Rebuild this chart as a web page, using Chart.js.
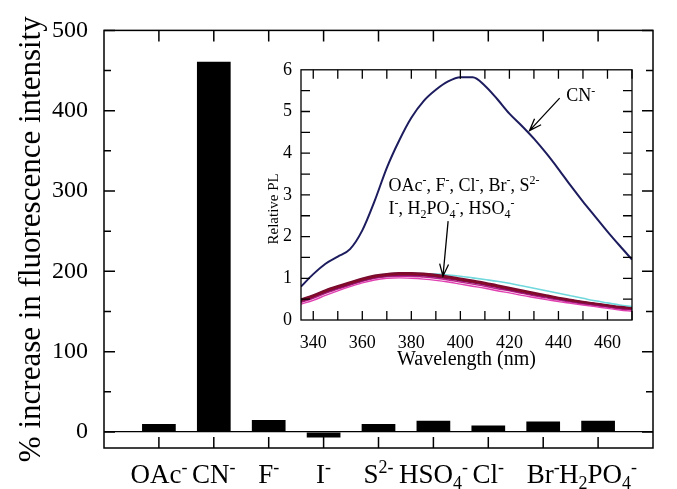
<!DOCTYPE html>
<html>
<head>
<meta charset="utf-8">
<script src="https://cdn.jsdelivr.net/npm/chart.js@4"></script>
<style>
  html, body { margin: 0; padding: 0; background: #fff; }
  #wrap { position: relative; width: 677px; height: 489px; }
  #main { position: absolute; left: 0; top: 0; width: 677px; height: 489px; }
  #inset { position: absolute; left: 250px; top: 50px; width: 400px; height: 330px; }
</style>
</head>
<body>
<div id="wrap">
  <div id="main"><canvas id="barChart"></canvas></div>
  <div id="inset"><canvas id="plChart"></canvas></div>
</div>
<script>
// bar chart data (% increase in fluorescence intensity)
const anions = ["OAc^-", "CN^-", "F^-", "I^-", "S^{2-}", "HSO_4^-", "Cl^-", "Br^-", "H_2PO_4^-"];
const increase = [10, 461, 15, -7, 10, 14, 8, 13, 14];
const yTickValues = [0, 100, 200, 300, 400, 500];

// inset: relative PL spectra
const wavelengths = [335, 340, 345, 350, 355, 360, 365, 370, 375, 380, 385, 390, 395, 400,
  405, 410, 415, 420, 425, 430, 435, 440, 445, 450, 455, 460, 465, 470];
const plCN = [0.80, 1.10, 1.35, 1.52, 1.70, 2.15, 2.85, 3.65, 4.30, 4.85, 5.25, 5.52, 5.72, 5.82,
  5.82, 5.62, 5.30, 4.95, 4.66, 4.35, 4.00, 3.62, 3.22, 2.84, 2.48, 2.12, 1.78, 1.45];
const plOAc = [0.50, 0.60, 0.72, 0.82, 0.91, 1.00, 1.07, 1.11, 1.13, 1.13, 1.12, 1.09, 1.05, 1.00,
  0.95, 0.90, 0.84, 0.78, 0.72, 0.66, 0.60, 0.54, 0.49, 0.44, 0.40, 0.36, 0.32, 0.29];
const plF = [0.48, 0.58, 0.70, 0.80, 0.89, 0.98, 1.05, 1.09, 1.11, 1.11, 1.10, 1.07, 1.03, 0.98,
  0.93, 0.88, 0.82, 0.76, 0.70, 0.64, 0.58, 0.53, 0.48, 0.43, 0.39, 0.35, 0.31, 0.28];
const plCl = [0.42, 0.52, 0.64, 0.74, 0.84, 0.93, 1.00, 1.04, 1.05, 1.05, 1.03, 1.00, 0.96, 0.91,
  0.86, 0.81, 0.75, 0.70, 0.64, 0.58, 0.53, 0.48, 0.43, 0.39, 0.35, 0.31, 0.27, 0.24];
const plBr = [0.46, 0.56, 0.68, 0.78, 0.87, 0.96, 1.03, 1.07, 1.09, 1.09, 1.08, 1.05, 1.01, 0.96,
  0.91, 0.86, 0.80, 0.74, 0.68, 0.62, 0.57, 0.51, 0.46, 0.42, 0.38, 0.34, 0.30, 0.27];
const plS = [0.47, 0.57, 0.69, 0.79, 0.88, 0.97, 1.04, 1.08, 1.10, 1.10, 1.09, 1.06, 1.02, 0.97,
  0.92, 0.87, 0.81, 0.75, 0.69, 0.63, 0.58, 0.52, 0.47, 0.43, 0.39, 0.35, 0.31, 0.28];
const plI = [0.38, 0.47, 0.59, 0.70, 0.80, 0.89, 0.96, 1.00, 1.01, 1.00, 0.98, 0.95, 0.91, 0.86,
  0.81, 0.76, 0.70, 0.65, 0.59, 0.54, 0.49, 0.44, 0.40, 0.36, 0.32, 0.28, 0.24, 0.21];
const plH2PO4 = [0.49, 0.59, 0.71, 0.81, 0.90, 0.99, 1.06, 1.10, 1.12, 1.12, 1.11, 1.10, 1.08, 1.05,
  1.01, 0.97, 0.93, 0.88, 0.82, 0.76, 0.70, 0.64, 0.58, 0.52, 0.46, 0.41, 0.36, 0.32];
const plHSO4 = [0.44, 0.54, 0.66, 0.76, 0.85, 0.94, 1.01, 1.05, 1.07, 1.07, 1.06, 1.03, 0.99, 0.94,
  0.89, 0.84, 0.78, 0.72, 0.66, 0.60, 0.55, 0.50, 0.45, 0.40, 0.36, 0.32, 0.28, 0.25];

const FONT = "'Liberation Serif', 'Times New Roman', serif";

// "HSO_4^-" -> segments with sub/superscripts
function parseRich(str) {
  const out = [];
  let i = 0, buf = "";
  while (i < str.length) {
    const c = str[i];
    if (c === "^" || c === "_") {
      if (buf) { out.push({ t: buf, m: 0 }); buf = ""; }
      let tok;
      if (str[i + 1] === "{") {
        const j = str.indexOf("}", i);
        tok = str.slice(i + 2, j);
        i = j + 1;
      } else {
        tok = str[i + 1];
        i += 2;
      }
      out.push({ t: tok, m: c === "^" ? 1 : -1 });
    } else {
      buf += c;
      i++;
    }
  }
  if (buf) out.push({ t: buf, m: 0 });
  return out;
}
function drawRich(ctx, str, x, y, size, align) {
  const segs = parseRich(str);
  const small = Math.round(size * 0.65);
  let w = 0;
  segs.forEach(s => {
    ctx.font = (s.m ? small : size) + "px " + FONT;
    s.w = ctx.measureText(s.t).width;
    w += s.w;
  });
  let cx = align === "center" ? x - w / 2 : x;
  ctx.textAlign = "left";
  ctx.textBaseline = "alphabetic";
  segs.forEach(s => {
    ctx.font = (s.m ? small : size) + "px " + FONT;
    const dy = s.m === 1 ? -size * 0.36 : s.m === -1 ? size * 0.24 : 0;
    ctx.fillText(s.t, cx, y + dy);
    cx += s.w;
  });
}
function drawArrow(ctx, x0, y0, x1, y1, head) {
  const a = Math.atan2(y1 - y0, x1 - x0);
  ctx.beginPath();
  ctx.moveTo(x0, y0);
  ctx.lineTo(x1, y1);
  ctx.moveTo(x1 - head * Math.cos(a - 0.35), y1 - head * Math.sin(a - 0.35));
  ctx.lineTo(x1, y1);
  ctx.lineTo(x1 - head * Math.cos(a + 0.35), y1 - head * Math.sin(a + 0.35));
  ctx.stroke();
}

// box around plot area with inward ticks on all four sides
const framePlugin = {
  id: "frame",
  afterDraw(chart, args, opts) {
    const { ctx, chartArea: a, scales } = chart;
    ctx.save();
    ctx.strokeStyle = "#000";
    ctx.lineWidth = opts.lineWidth;
    ctx.strokeRect(a.left, a.top, a.right - a.left, a.bottom - a.top);
    ctx.beginPath();
    opts.xTicks.forEach(([v, len]) => {
      const px = scales.x.getPixelForValue(v);
      ctx.moveTo(px, a.bottom); ctx.lineTo(px, a.bottom - len);
      ctx.moveTo(px, a.top); ctx.lineTo(px, a.top + len);
    });
    opts.yTicks.forEach(([v, len]) => {
      const py = scales.y.getPixelForValue(v);
      ctx.moveTo(a.left, py); ctx.lineTo(a.left + len, py);
      ctx.moveTo(a.right, py); ctx.lineTo(a.right - len, py);
    });
    ctx.stroke();
    ctx.restore();
  }
};

// category labels with sub/superscripts
const anionLabels = {
  id: "anionLabels",
  afterDraw(chart) {
    const { ctx, scales: { x } } = chart;
    ctx.save();
    ctx.fillStyle = "#000";
    anions.forEach((lab, i) => drawRich(ctx, lab, x.getPixelForValue(i + 1), 483, 27, "center"));
    ctx.restore();
  }
};

const mainXTicks = anions.map((a, i) => [i + 1, 11]);
const mainYTicks = [];
for (let v = 0; v <= 500; v += 50) mainYTicks.push([v, yTickValues.includes(v) ? 11 : 7]);

new Chart(document.getElementById("barChart"), {
  type: "bar",
  data: {
    labels: ["", ...anions, ""],
    datasets: [{
      data: [null, ...increase, null],
      backgroundColor: "#000",
      borderWidth: 0,
      barPercentage: 0.614,
      categoryPercentage: 1
    }]
  },
  options: {
    responsive: true,
    maintainAspectRatio: false,
    animation: false,
    layout: { padding: { top: 26, right: 24, left: 0, bottom: 0 } },
    plugins: {
      legend: { display: false },
      tooltip: { enabled: false },
      frame: { lineWidth: 1.5, xTicks: mainXTicks, yTicks: mainYTicks }
    },
    scales: {
      x: {
        offset: false,
        grid: { display: false },
        border: { display: false },
        ticks: { display: false },
        afterFit: s => { s.height = 41; }
      },
      y: {
        min: -20,
        max: 500,
        border: { display: false },
        grid: {
          drawTicks: false,
          lineWidth: 1.3,
          color: c => (c.tick && c.tick.value === 0 ? "#000" : "rgba(0,0,0,0)")
        },
        ticks: {
          stepSize: 50,
          includeBounds: false,
          padding: 16,
          color: "#000",
          font: { family: FONT, size: 24 },
          callback: v => (yTickValues.includes(v) ? v : "")
        },
        title: {
          display: true,
          text: "% increase in fluorescence intensity",
          color: "#000",
          font: { family: FONT, size: 31 },
          padding: { top: 13, bottom: 0 }
        },
        afterFit: s => { s.width = 104; }
      }
    }
  },
  plugins: [framePlugin, anionLabels]
});

// inset annotations, in data coordinates
const insetNotes = [
  { lines: ["CN^-"], x: 443.2, y: 5.24 },
  { lines: ["OAc^-, F^-, Cl^-, Br^-, S^{2-}", "I^-, H_2PO_4^-, HSO_4^-"], x: 370.7, y: 3.1 }
];
const insetArrows = [
  [440.5, 5.32, 428.2, 4.54],
  [395.0, 2.37, 392.9, 1.05]
];
const notesPlugin = {
  id: "notes",
  afterDraw(chart) {
    const { ctx, chartArea: a, scales: { x, y } } = chart;
    ctx.save();
    ctx.fillStyle = "#000";
    ctx.strokeStyle = "#000";
    ctx.lineWidth = 1.3;
    insetNotes.forEach(n => n.lines.forEach((t, k) =>
      drawRich(ctx, t, x.getPixelForValue(n.x), y.getPixelForValue(n.y) + k * 23, 18, "left")));
    insetArrows.forEach(([x0, y0, x1, y1]) =>
      drawArrow(ctx, x.getPixelForValue(x0), y.getPixelForValue(y0),
        x.getPixelForValue(x1), y.getPixelForValue(y1), 13));
    // y axis title, sits a little below the middle in the original
    ctx.translate(a.left - 27, (a.top + a.bottom) / 2 + 14);
    ctx.rotate(-Math.PI / 2);
    ctx.font = "15px " + FONT;
    ctx.textAlign = "center";
    ctx.textBaseline = "middle";
    ctx.fillText("Relative PL", 0, 0);
    ctx.restore();
  }
};

const insetSeries = [
  { label: "CN-", data: plCN, color: "#1c1c5e", width: 2 },
  { label: "OAc-", data: plOAc, color: "#7a0a2e", width: 1.6 },
  { label: "S2-", data: plS, color: "#8c0a24", width: 1.6 },
  { label: "F-", data: plF, color: "#a01040", width: 1.4 },
  { label: "Br-", data: plBr, color: "#6a1050", width: 1.4 },
  { label: "HSO4-", data: plHSO4, color: "#901060", width: 1.4 },
  { label: "Cl-", data: plCl, color: "#c02090", width: 1.4 },
  { label: "I-", data: plI, color: "#e040b0", width: 1.4 },
  { label: "H2PO4-", data: plH2PO4, color: "#70d8dc", width: 1.6 }
];

const insetXTicks = [];
for (let v = 340; v <= 470; v += 10) insetXTicks.push([v, 9]);
const insetYTicks = [];
for (let v = 0.5; v < 6; v += 0.5) insetYTicks.push([v, 9]);

new Chart(document.getElementById("plChart"), {
  type: "line",
  data: {
    datasets: insetSeries.map(s => ({
      label: s.label,
      data: wavelengths.map((w, i) => ({ x: w, y: s.data[i] })),
      borderColor: s.color,
      borderWidth: s.width,
      pointRadius: 0,
      fill: false,
      cubicInterpolationMode: "monotone"
    }))
  },
  options: {
    responsive: true,
    maintainAspectRatio: false,
    animation: false,
    layout: { padding: { top: 12, right: 18, left: 0, bottom: 0 } },
    plugins: {
      legend: { display: false },
      tooltip: { enabled: false },
      frame: { lineWidth: 1.3, xTicks: insetXTicks, yTicks: insetYTicks }
    },
    scales: {
      x: {
        type: "linear",
        min: 335,
        max: 470,
        grid: { display: false },
        border: { display: false },
        ticks: {
          stepSize: 20,
          includeBounds: false,
          autoSkip: false,
          maxRotation: 0,
          padding: 4,
          color: "#000",
          font: { family: FONT, size: 18 }
        },
        title: {
          display: true,
          text: "Wavelength (nm)",
          color: "#000",
          font: { family: FONT, size: 20 },
          padding: { top: 0, bottom: 8 }
        },
        afterFit: s => { s.height = 60; }
      },
      y: {
        min: 0,
        max: 6,
        grid: { display: false, drawTicks: false },
        border: { display: false },
        ticks: {
          stepSize: 1,
          padding: 9,
          color: "#000",
          font: { family: FONT, size: 18 }
        },
        afterFit: s => { s.width = 51; }
      }
    }
  },
  plugins: [framePlugin, notesPlugin]
});
</script>
</body>
</html>
